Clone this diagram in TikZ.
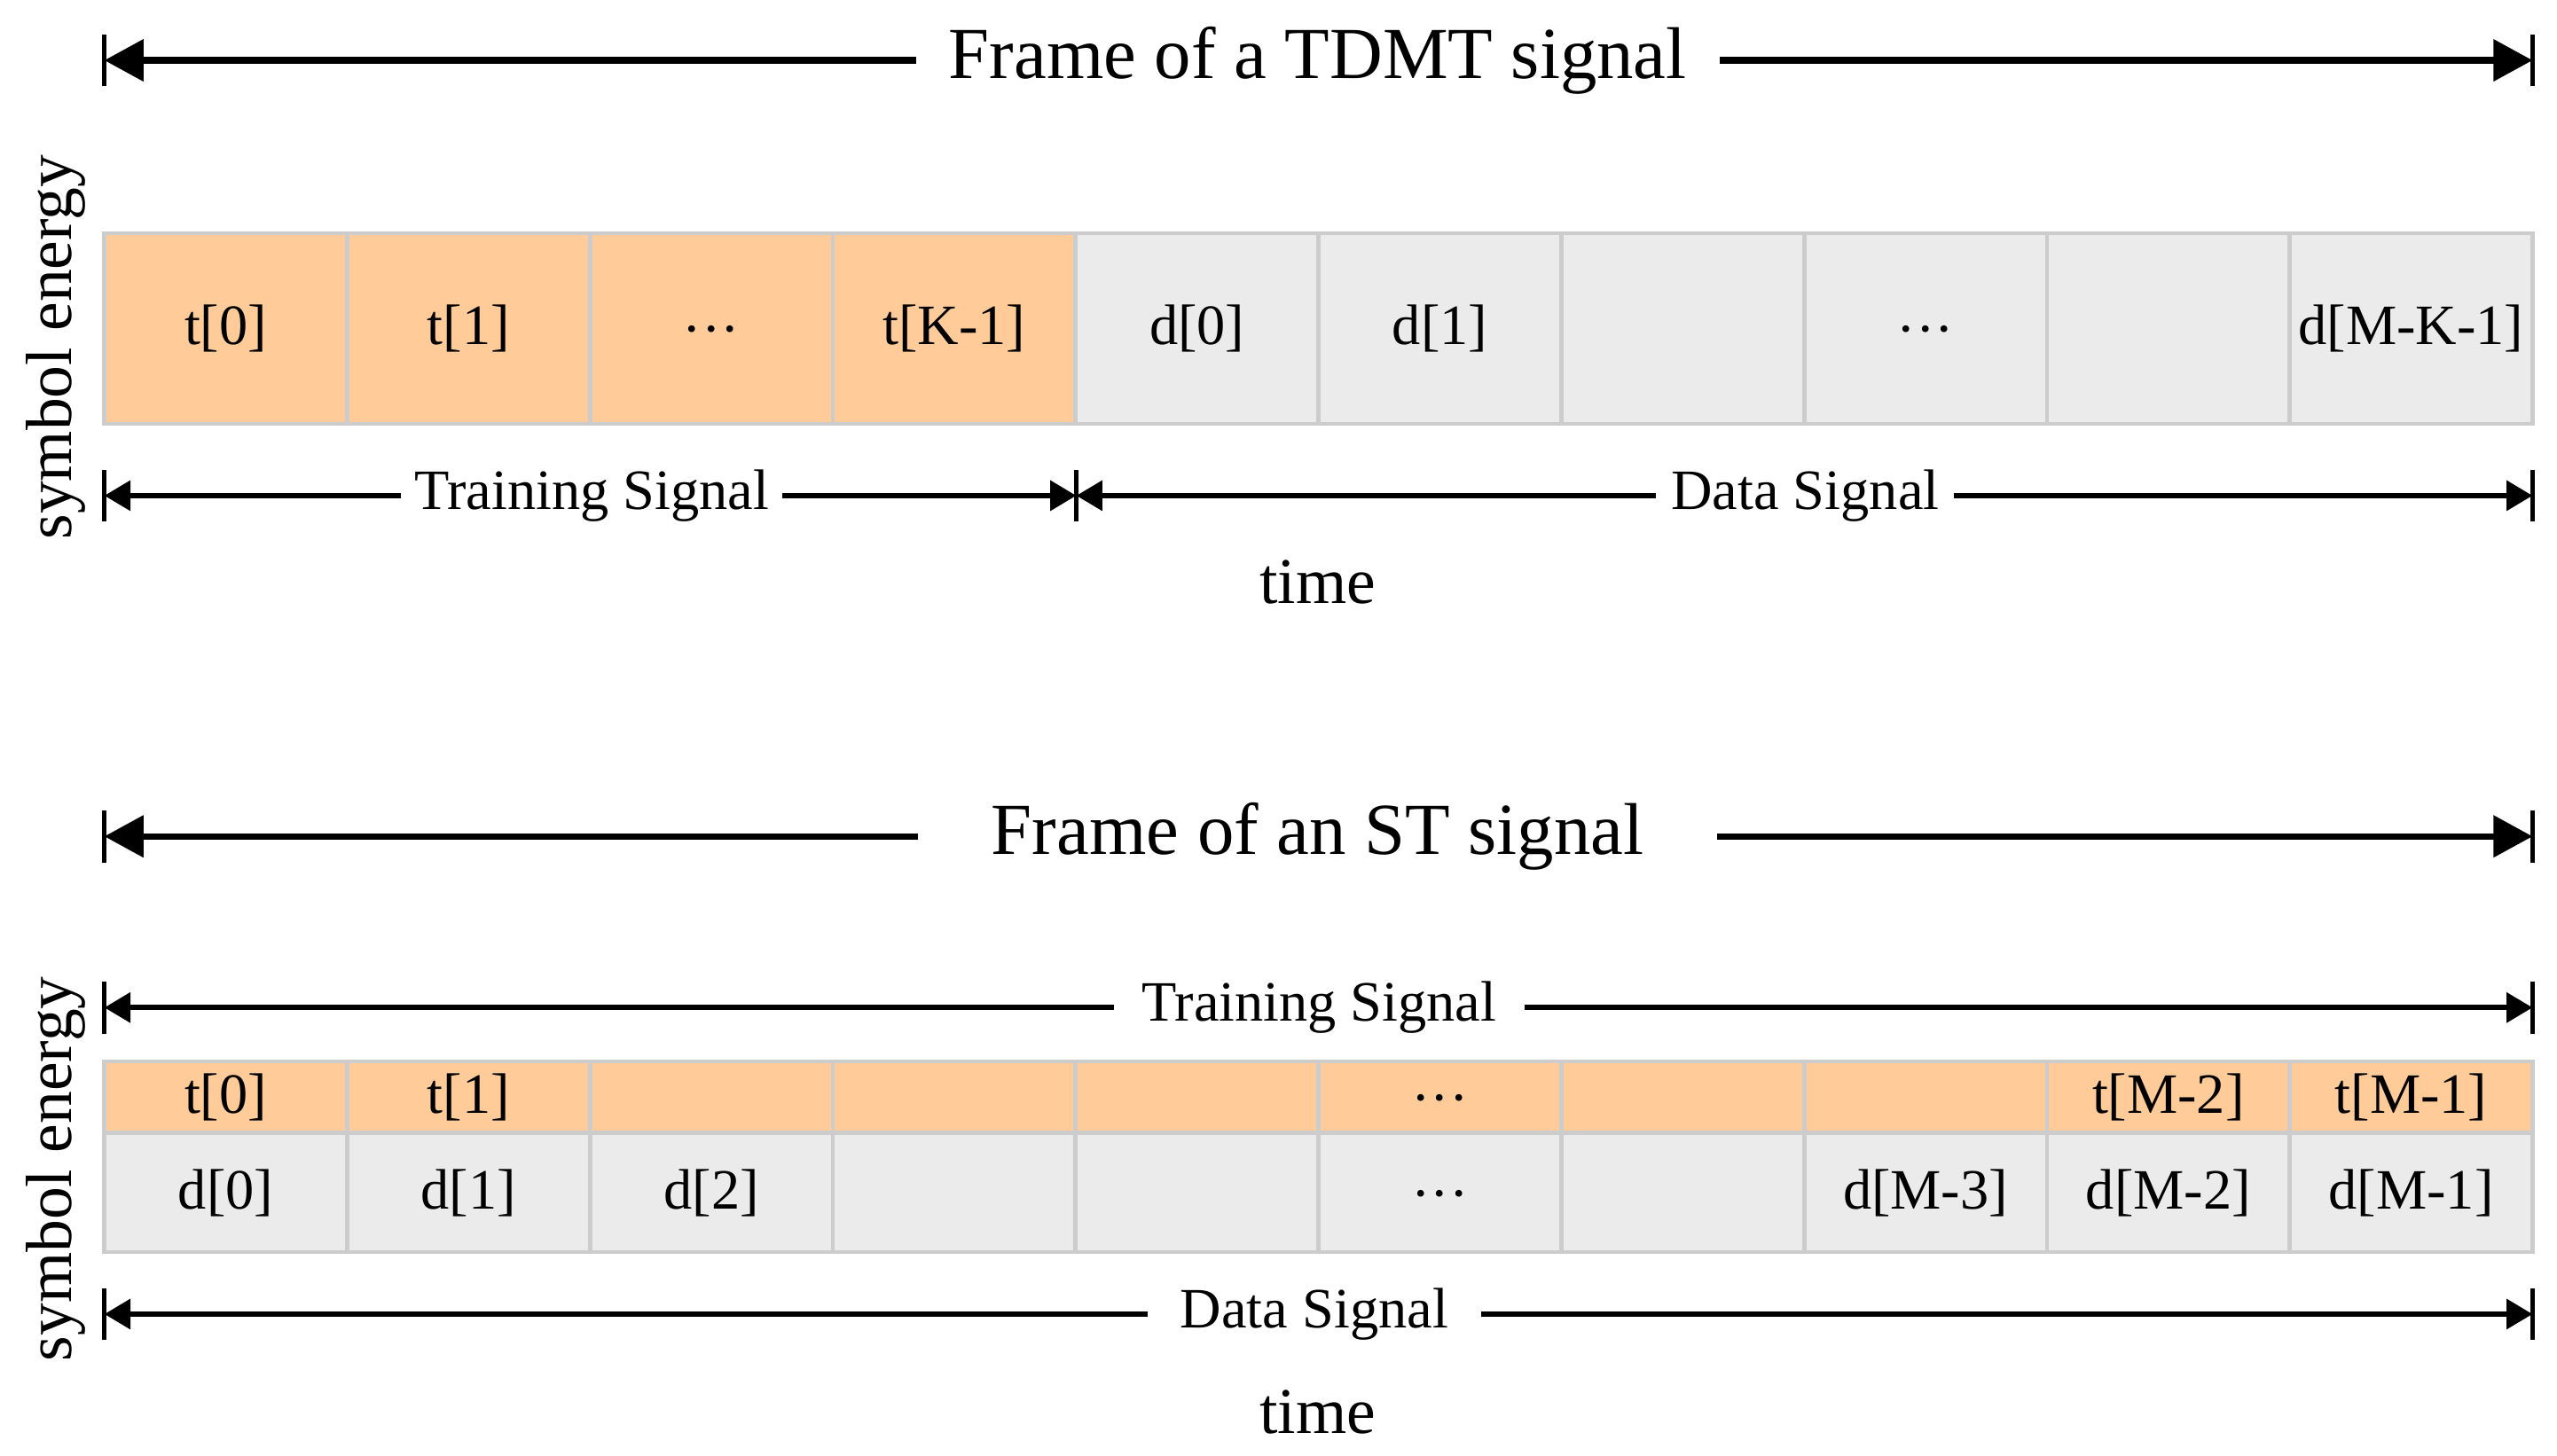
\documentclass[tikz,border=0pt]{standalone}
\usepackage{fontspec}
\setmainfont{Liberation Serif}
\usetikzlibrary{arrows.meta}
\definecolor{torange}{HTML}{FFCC99}
\definecolor{dgray}{HTML}{EBEBEB}
\definecolor{bgray}{HTML}{CCCCCC}
\newcommand{\mydots}{\raisebox{-12pt}[0pt][0pt]{···}}
\begin{document}
\begin{tikzpicture}[x=1pt,y=-1pt,
  cell/.style={rectangle,draw=bgray,line width=2.6pt,inner sep=0pt,minimum width=148.9pt,font=\fontsize{35}{42}\selectfont},
  tcell/.style={cell,fill=torange},
  dcell/.style={cell,fill=dgray},
  frametitle/.style={font=\fontsize{45}{54}\selectfont,inner ysep=0pt},
  siglabel/.style={font=\fontsize{35}{42}\selectfont,inner ysep=0pt},
  axislabel/.style={font=\fontsize{40}{48}\selectfont,inner sep=0pt},
  bigarrow/.style={line width=4pt,-{Triangle[length=24pt,width=25pt]}},
  smallarrow/.style={line width=3.4pt,-{Triangle[length=16pt,width=18pt]}},
  bigbar/.style={line width=3pt},
  smallbar/.style={line width=2.8pt},
]
\useasboundingbox (0,0) rectangle (1568,893);

% ---------- TDMT frame ----------
\node[frametitle,inner xsep=20pt] (ttitle) at (808,37) {Frame of a TDMT signal};
\coordinate (fL) at (64,37);
\coordinate (fR) at (1553,37);
\draw[bigarrow] (ttitle.west) -- (fL);
\draw[bigarrow] (ttitle.east) -- (fR);
\draw[bigbar] ([yshift=16pt]fL) -- ([yshift=-16pt]fL);
\draw[bigbar] ([yshift=16pt]fR) -- ([yshift=-16pt]fR);

\foreach \i/\lab/\sty in {0/{t[0]}/tcell,1/{t[1]}/tcell,2/{\mydots}/tcell,3/{t[K-1]}/tcell,
  4/{d[0]}/dcell,5/{d[1]}/dcell,6/{}/dcell,7/{\mydots}/dcell,8/{}/dcell,9/{d[M-K-1]}/dcell}
  \node[\sty,minimum height=117pt] (a\i) at ({64+148.9*(\i+0.5)},201.5) {\lab};

\node[siglabel,inner xsep=8pt] (tsig) at (363,304) {Training Signal};
\node[siglabel,inner xsep=9pt] (dsig) at (1107,304) {Data Signal};
\coordinate (tL) at (64,304);
\coordinate (tM) at (660,304);
\coordinate (tR) at (1553,304);
\draw[smallarrow] (tsig.west) -- (tL);
\draw[smallarrow] (tsig.east) -- (tM);
\draw[smallarrow] (dsig.west) -- (tM);
\draw[smallarrow] (dsig.east) -- (tR);
\foreach \c in {tL,tM,tR}
  \draw[smallbar] ([yshift=16pt]\c) -- ([yshift=-16pt]\c);

\node[axislabel,anchor=base] (time1) at (808,370) {time};
\node[axislabel,anchor=base,rotate=90] (se1) at (44,213) {symbol energy};

% ---------- ST frame ----------
\node[frametitle,inner xsep=45pt] (stitle) at (808,513) {Frame of an ST signal};
\coordinate (gL) at (64,513);
\coordinate (gR) at (1553,513);
\draw[bigarrow] (stitle.west) -- (gL);
\draw[bigarrow] (stitle.east) -- (gR);
\draw[bigbar] ([yshift=16pt]gL) -- ([yshift=-16pt]gL);
\draw[bigbar] ([yshift=16pt]gR) -- ([yshift=-16pt]gR);

\node[siglabel,inner xsep=17pt] (tsig2) at (809,618) {Training Signal};
\coordinate (uL) at (64,618);
\coordinate (uR) at (1553,618);
\draw[smallarrow] (tsig2.west) -- (uL);
\draw[smallarrow] (tsig2.east) -- (uR);
\foreach \c in {uL,uR}
  \draw[smallbar] ([yshift=16pt]\c) -- ([yshift=-16pt]\c);

\foreach \i/\lab in {0/{t[0]},1/{t[1]},2/{},3/{},4/{},5/{\mydots},6/{},7/{},8/{t[M-2]},9/{t[M-1]}}
  \node[tcell,minimum height=44pt] (b\i) at ({64+148.9*(\i+0.5)},673) {\lab};
\foreach \i/\lab in {0/{d[0]},1/{d[1]},2/{d[2]},3/{},4/{},5/{\mydots},6/{},7/{d[M-3]},8/{d[M-2]},9/{d[M-1]}}
  \node[dcell,minimum height=73pt] (c\i) at ({64+148.9*(\i+0.5)},731.5) {\lab};

\node[siglabel,inner xsep=20pt] (dsig2) at (806,806) {Data Signal};
\coordinate (vL) at (64,806);
\coordinate (vR) at (1553,806);
\draw[smallarrow] (dsig2.west) -- (vL);
\draw[smallarrow] (dsig2.east) -- (vR);
\foreach \c in {vL,vR}
  \draw[smallbar] ([yshift=16pt]\c) -- ([yshift=-16pt]\c);

\node[axislabel,anchor=base] (time2) at (808,879) {time};
\node[axislabel,anchor=base,rotate=90] (se2) at (44,717) {symbol energy};
\end{tikzpicture}
\end{document}
